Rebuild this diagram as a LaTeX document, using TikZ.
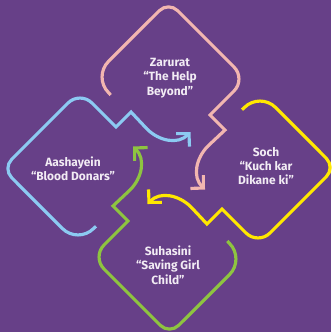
\documentclass[tikz,border=0pt]{standalone}
\usepackage{fontspec}
\newfontfamily\labelfont{Fira Sans}[UprightFont={* Bold},Ligatures=TeX]
\usetikzlibrary{arrows.meta}
\definecolor{bgpurple}{RGB}{103,64,136}
\definecolor{loppink}{RGB}{242,182,176}
\definecolor{lopblue}{RGB}{140,202,242}
\definecolor{lopgreen}{RGB}{142,196,64}
\definecolor{lopyellow}{RGB}{255,232,0}
\definecolor{txtwhite}{RGB}{242,236,244}
\begin{document}
\begin{tikzpicture}[x=0.03cm,y=-0.03cm,
  loopline/.style={line width=2.7pt,-{Straight Barb[length=2.7mm,width=5.6mm]}},
  looptext/.style={text=txtwhite,font=\labelfont\fontsize{10.2}{12.2}\selectfont,align=center}]
\def\cx{169};\def\cy{168};
\useasboundingbox[fill=bgpurple] (0,0) rectangle (331,332);

% one loop, turned four times round the centre
\foreach \ang/\col in {0/loppink,90/lopblue,180/lopgreen,270/lopyellow}{
\draw[loopline,draw=\col,rotate around={\ang:(\cx,\cy)}]
  (110.7,95) -- (108.5,92.6) .. controls (99.9,84) and (99.9,70) .. (108.5,61.4)
  -- (159.3,10.7) .. controls (164.4,5.6) and (172.6,5.6) .. (177.7,10.7)
  -- (234,67) .. controls (240.6,73.6) and (240.6,84.4) .. (234,91)
  -- (210,115) -- (225,130) -- (208,146)
  .. controls (196,158) and (192,177) .. (205,189.5);
}

\node[looptext] (zarurat) at (170,78) {Zarurat\\“The Help\\Beyond”};
\node[looptext] (soch) at (266,166) {Soch\\“Kuch kar\\Dikane ki”};
\node[looptext] (suhasini) at (168,265) {Suhasini\\“Saving Girl\\Child”};
\node[looptext] (aashayein) at (73,169) {Aashayein\\“Blood Donars”};
\end{tikzpicture}
\end{document}
